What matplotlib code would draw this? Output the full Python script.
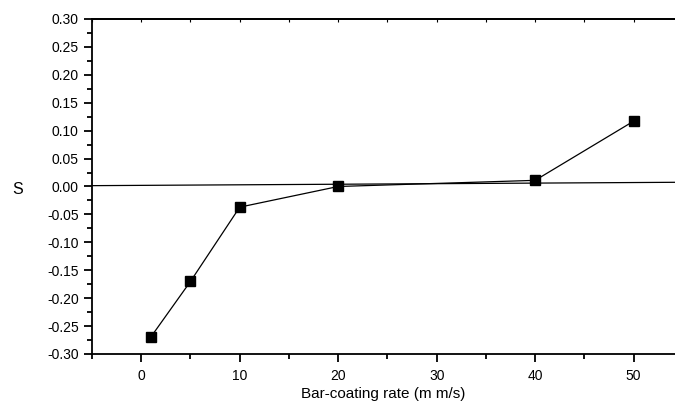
import numpy as np
import matplotlib.pyplot as plt
from matplotlib.ticker import MultipleLocator

# data
rate = [1, 5, 10, 20, 40, 50]
s_val = [-0.269, -0.170, -0.037, 0.000, 0.011, 0.117]
ref_x = [-5, 54.2]
ref_y = [0.0015, 0.0075]

plt.rcParams['font.family'] = ['Liberation Sans', 'DejaVu Sans']

fig = plt.figure(figsize=(6.75, 4.03), dpi=100)
ax = fig.add_axes([0.1363, 0.1216, 0.8637, 0.8313])

ax.plot(ref_x, ref_y, color='black', lw=0.9)
ax.plot(rate, s_val, color='black', lw=0.9, marker='s', markersize=7.5)

ax.set_xlim(-5, 54.2)
ax.set_ylim(-0.30, 0.30)
ax.xaxis.set_major_locator(MultipleLocator(10))
ax.xaxis.set_minor_locator(MultipleLocator(5))
ax.yaxis.set_major_locator(MultipleLocator(0.05))
ax.yaxis.set_minor_locator(MultipleLocator(0.025))
ax.yaxis.set_major_formatter(plt.FuncFormatter(lambda v, p: '%.2f' % v))

ax.spines['right'].set_visible(False)
for sp in ax.spines.values():
    sp.set_linewidth(1.3)
ax.tick_params(which='major', direction='out', length=6, width=1.3, labelsize=10)
ax.tick_params(which='minor', direction='out', length=3.5, width=1.3)
ax.tick_params(axis='x', which='both', pad=5)

# small inward ticks along the top edge
top = ax.secondary_xaxis('top')
top.xaxis.set_major_locator(MultipleLocator(5))
top.tick_params(direction='in', length=2, width=0.8, labelsize=0, labeltop=False)
top.spines['top'].set_linewidth(1.3)

ax.set_xlabel('Bar-coating rate (m m/s)', fontsize=11, va='center')
ax.xaxis.set_label_coords(0.5, -0.119)
ax.set_ylabel('S', fontsize=11.5, rotation=0)
ax.yaxis.set_label_coords(-0.128, 0.47)

fig.savefig('out.png', dpi=100)
